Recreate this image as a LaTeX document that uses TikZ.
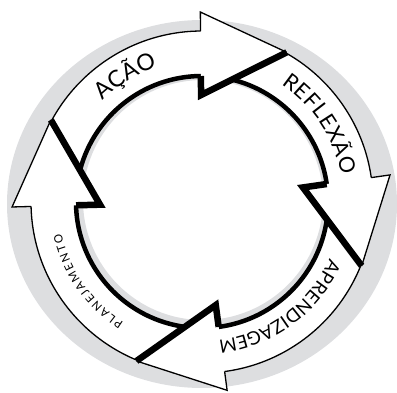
\documentclass[tikz,border=0pt]{standalone}
\usepackage{fontspec}
\setmainfont{Lato}
\usetikzlibrary{decorations.text}
\definecolor{ringgray}{RGB}{221,222,224}
\begin{document}
\begin{tikzpicture}[x=1pt,y=1pt,
  thinedge/.style={line width=1.3pt, line join=miter},
  heavyedge/.style={line width=6.5pt, line join=miter, miter limit=10},
  innerrim/.style={line width=4.5pt},
  arclabel/.style={decorate, decoration={text along path, text={#1}, text align=fit to path}}]
\useasboundingbox (0,0) rectangle (397,392);
\coordinate (C) at (202,190);
% grey halo behind the cycle
\fill[ringgray, even odd rule] (202,188) ellipse [x radius=195, y radius=184] (203,192) circle [radius=120];
% white band carrying the four arrows
\fill[white, even odd rule] (C) circle [radius=171] (C) circle [radius=126];
\draw[thinedge] (C) circle [radius=171];
\draw[innerrim] (C) circle [radius=126];
% arrow heads: name / angle of the back edge / radius of the inner barb
\foreach \nm/\ang/\rb in {acao/90.5/107, reflexao/8.2/102, aprendizagem/-82.4/104, planejamento/181.5/102} {
  \begin{scope}[shift={(C)}]
    \coordinate (\nm-outer) at (\ang:171);
    \coordinate (\nm-barbout) at (\ang:190);
    \coordinate (\nm-tip) at ({\ang-30}:172);
    \coordinate (\nm-barbin) at (\ang:\rb);
    \coordinate (\nm-inner) at (\ang:126);
  \end{scope}
  \fill[white] (\nm-barbout) -- (\nm-tip) -- (\nm-barbin) -- cycle;
  \draw[thinedge] (\nm-outer) -- (\nm-barbout) -- (\nm-tip);
  \draw[heavyedge] (\nm-tip) -- (\nm-barbin) -- (\nm-inner);
}
% labels running clockwise along the band
\path[arclabel={|\fontsize{23}{23}\selectfont|AÇÃO}]
  ([shift={(134.5:142)}]C) arc [start angle=134.5, end angle=108.5, radius=142];
\path[arclabel={|\fontsize{21.5}{21.5}\selectfont|REFLEXÃO}]
  ([shift={(56:142)}]C) arc [start angle=56, end angle=11, radius=142];
\path[arclabel={|\fontsize{18.5}{18.5}\selectfont|APRENDIZAGEM}]
  ([shift={(-24:139.5)}]C) arc [start angle=-24, end angle=-82.8, radius=139.5];
\path[arclabel={|\fontsize{11.5}{11.5}\selectfont|PLANEJAMENTO}]
  ([shift={(-123:144)}]C) arc [start angle=-123, end angle=-167.5, radius=144];
\end{tikzpicture}
\end{document}
